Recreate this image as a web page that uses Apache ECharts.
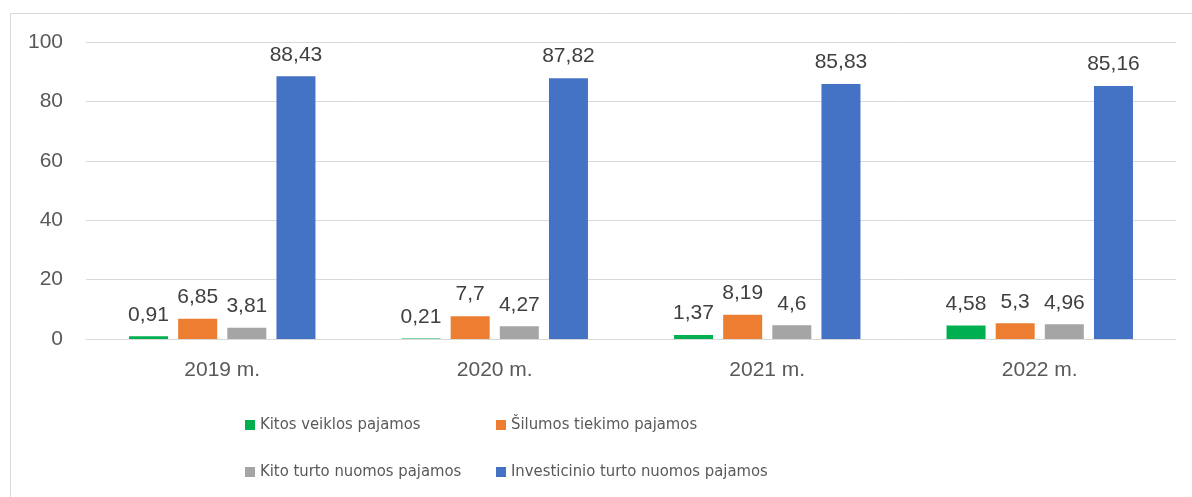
<!DOCTYPE html>
<html>
<head>
<meta charset="utf-8">
<script src="https://cdn.jsdelivr.net/npm/echarts@6/dist/echarts.min.js"></script>
<style>
  html, body { margin: 0; padding: 0; background: #fff; }
  #chart { width: 1192px; height: 497px; }
</style>
</head>
<body>
<div id="chart"></div>
<script>
// metai
const categories = ['2019 m.', '2020 m.', '2021 m.', '2022 m.'];
// pajamų dalys, %
const kitosVeiklos = [0.91, 0.21, 1.37, 4.58];
const silumosTiekimo = [6.85, 7.7, 8.19, 5.3];
const kitoTurto = [3.81, 4.27, 4.6, 4.96];
const investicinio = [88.43, 87.82, 85.83, 85.16];
const yTicks = [0, 20, 40, 60, 80, 100];

const names = [
  'Kitos veiklos pajamos',
  'Šilumos tiekimo pajamos',
  'Kito turto nuomos pajamos',
  'Investicinio turto nuomos pajamos',
];
const colors = ['#00b050', '#ed7d31', '#a5a5a5', '#4472c4'];
const values = [kitosVeiklos, silumosTiekimo, kitoTurto, investicinio];

const font = '"Liberation Sans", Arial, sans-serif';
const narrowFont = '"DejaVu Sans Condensed", "Liberation Sans", sans-serif';
const textColor = '#595959';

// legendų vietos (2x2)
const legendPos = [
  { left: 245, top: 415 },
  { left: 496, top: 415 },
  { left: 245, top: 462 },
  { left: 496, top: 462 },
];

const chart = echarts.init(document.getElementById('chart'));
chart.setOption({
  animation: false,
  backgroundColor: '#fff',
  color: colors,
  graphic: [
    {
      type: 'rect',
      shape: { x: 10.5, y: 13.5, width: 1200, height: 520 },
      style: { fill: 'none', stroke: '#d9d9d9', lineWidth: 1 },
      silent: true,
    },
  ],
  grid: { left: 86, right: 16, top: 42, bottom: 158 },
  legend: names.map((n, i) => ({
    data: [n],
    left: legendPos[i].left,
    top: legendPos[i].top,
    padding: 0,
    itemWidth: 10,
    itemHeight: 10,
    icon: 'rect',
    textStyle: { fontFamily: narrowFont, fontSize: 16.5, lineHeight: 20, color: textColor },
  })),
  xAxis: {
    type: 'category',
    data: categories,
    axisLine: { lineStyle: { color: '#d9d9d9' } },
    axisTick: { show: false },
    axisLabel: { fontFamily: font, fontSize: 21, color: textColor, margin: 21 },
  },
  yAxis: {
    type: 'value',
    min: yTicks[0],
    max: yTicks[yTicks.length - 1],
    interval: 20,
    splitLine: { lineStyle: { color: '#d9d9d9' } },
    axisLabel: { fontFamily: font, fontSize: 21, color: textColor, margin: 23 },
  },
  series: names.map((n, i) => ({
    name: n,
    type: 'bar',
    data: values[i],
    barWidth: 39,
    barGap: '26%',
    label: {
      show: true,
      position: 'top',
      distance: 11,
      fontFamily: font,
      fontSize: 21,
      color: '#404040',
      formatter: (p) => String(p.value).replace('.', ','),
    },
  })),
});
</script>
</body>
</html>
